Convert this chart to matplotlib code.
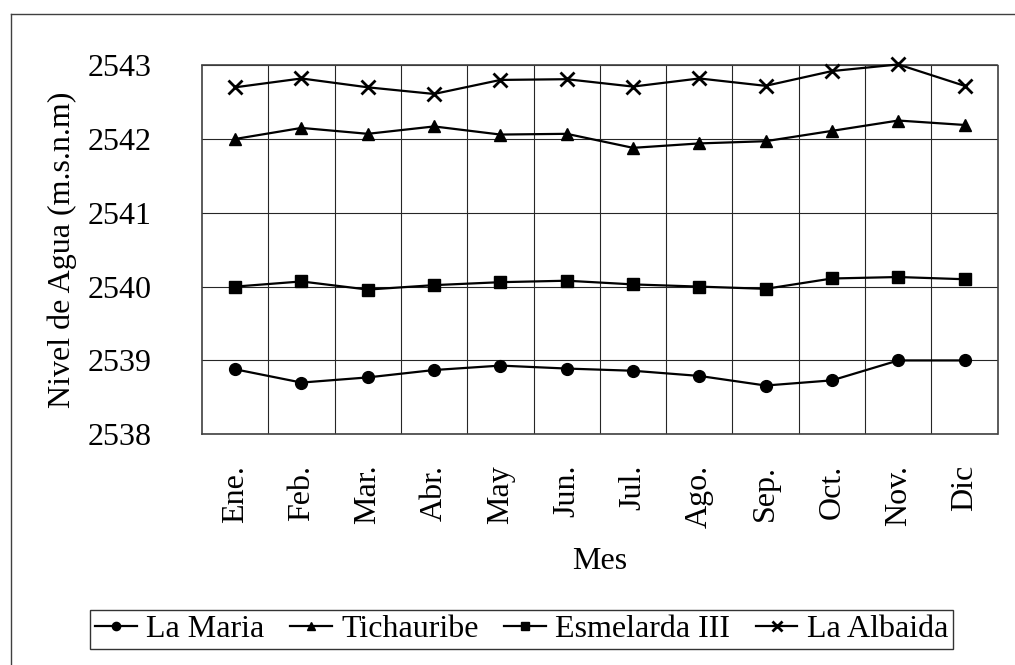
import matplotlib
matplotlib.use("Agg")
import matplotlib.pyplot as plt
from matplotlib.lines import Line2D

plt.rcParams["font.family"] = ["Liberation Serif", "DejaVu Serif"]

months = ["Ene.", "Feb.", "Mar.", "Abr.", "May", "Jun.",
          "Jul.", "Ago.", "Sep.", "Oct.", "Nov.", "Dic"]
la_maria = [2538.88, 2538.70, 2538.77, 2538.87, 2538.93, 2538.89,
            2538.86, 2538.79, 2538.66, 2538.73, 2539.00, 2539.00]
tichauribe = [2542.00, 2542.15, 2542.07, 2542.17, 2542.06, 2542.07,
              2541.88, 2541.94, 2541.97, 2542.11, 2542.25, 2542.19]
esmelarda = [2540.00, 2540.07, 2539.96, 2540.02, 2540.06, 2540.08,
             2540.03, 2540.00, 2539.97, 2540.11, 2540.13, 2540.10]
la_albaida = [2542.70, 2542.82, 2542.70, 2542.61, 2542.80, 2542.81,
              2542.71, 2542.82, 2542.72, 2542.92, 2543.01, 2542.72]
y_ticks = [2538, 2539, 2540, 2541, 2542, 2543]

fig = plt.figure(figsize=(10.15, 6.65), dpi=100)
ax = fig.add_axes([0.199, 0.347, 0.784, 0.555])

x = range(len(months))
series = [
    ("La Maria", la_maria, "o", 8.5, 1),
    ("Tichauribe", tichauribe, "^", 9, 1),
    ("Esmelarda III", esmelarda, "s", 9, 1),
    ("La Albaida", la_albaida, "x", 10, 2),
]
for name, vals, mk, ms, mew in series:
    ax.plot(x, vals, color="black", lw=1.6, marker=mk, markersize=ms,
            markeredgewidth=mew, label=name, clip_on=False, zorder=3)

# axis formatting
ax.set_xlim(-0.5, len(months) - 0.5)
ax.set_ylim(2538, 2543)
ax.set_yticks(y_ticks)
ax.set_yticklabels([str(v) for v in y_ticks], fontsize=23)
ax.set_xticks(list(x))
ax.set_xticklabels(months, rotation=90, fontsize=23)
ax.set_xticks([i + 0.5 for i in range(len(months) - 1)], minor=True)
ax.tick_params(axis="both", which="both", length=0)
ax.tick_params(axis="y", pad=36)
ax.tick_params(axis="x", pad=22)
ax.grid(True, which="major", axis="y", color="0.15", lw=0.8)
ax.grid(True, which="minor", axis="x", color="0.15", lw=0.8)
for sp in ax.spines.values():
    sp.set_linestyle((0, (1, 1)))
    sp.set_color("0.25")
    sp.set_linewidth(1.2)

# labels and legend
ax.set_xlabel("Mes", fontsize=23, labelpad=14)
ax.set_ylabel("Nivel de Agua (m.s.n.m)", fontsize=23, labelpad=8)
leg = fig.legend(loc="center", bbox_to_anchor=(0.514, 0.054), ncol=4,
                 fontsize=23, frameon=True, fancybox=False, edgecolor="black",
                 handlelength=1.3, handletextpad=0.3, columnspacing=0.8,
                 borderpad=0.15, markerscale=0.7)
leg.get_frame().set_linewidth(1.0)

# outer frame of the figure (left and top)
fig.add_artist(Line2D([0.011, 0.011], [0.0, 0.979], color="0.25", lw=1.0,
                      transform=fig.transFigure))
fig.add_artist(Line2D([0.011, 1.0], [0.979, 0.979], color="0.25", lw=1.0,
                      transform=fig.transFigure))

fig.savefig("out.png", dpi=100)
